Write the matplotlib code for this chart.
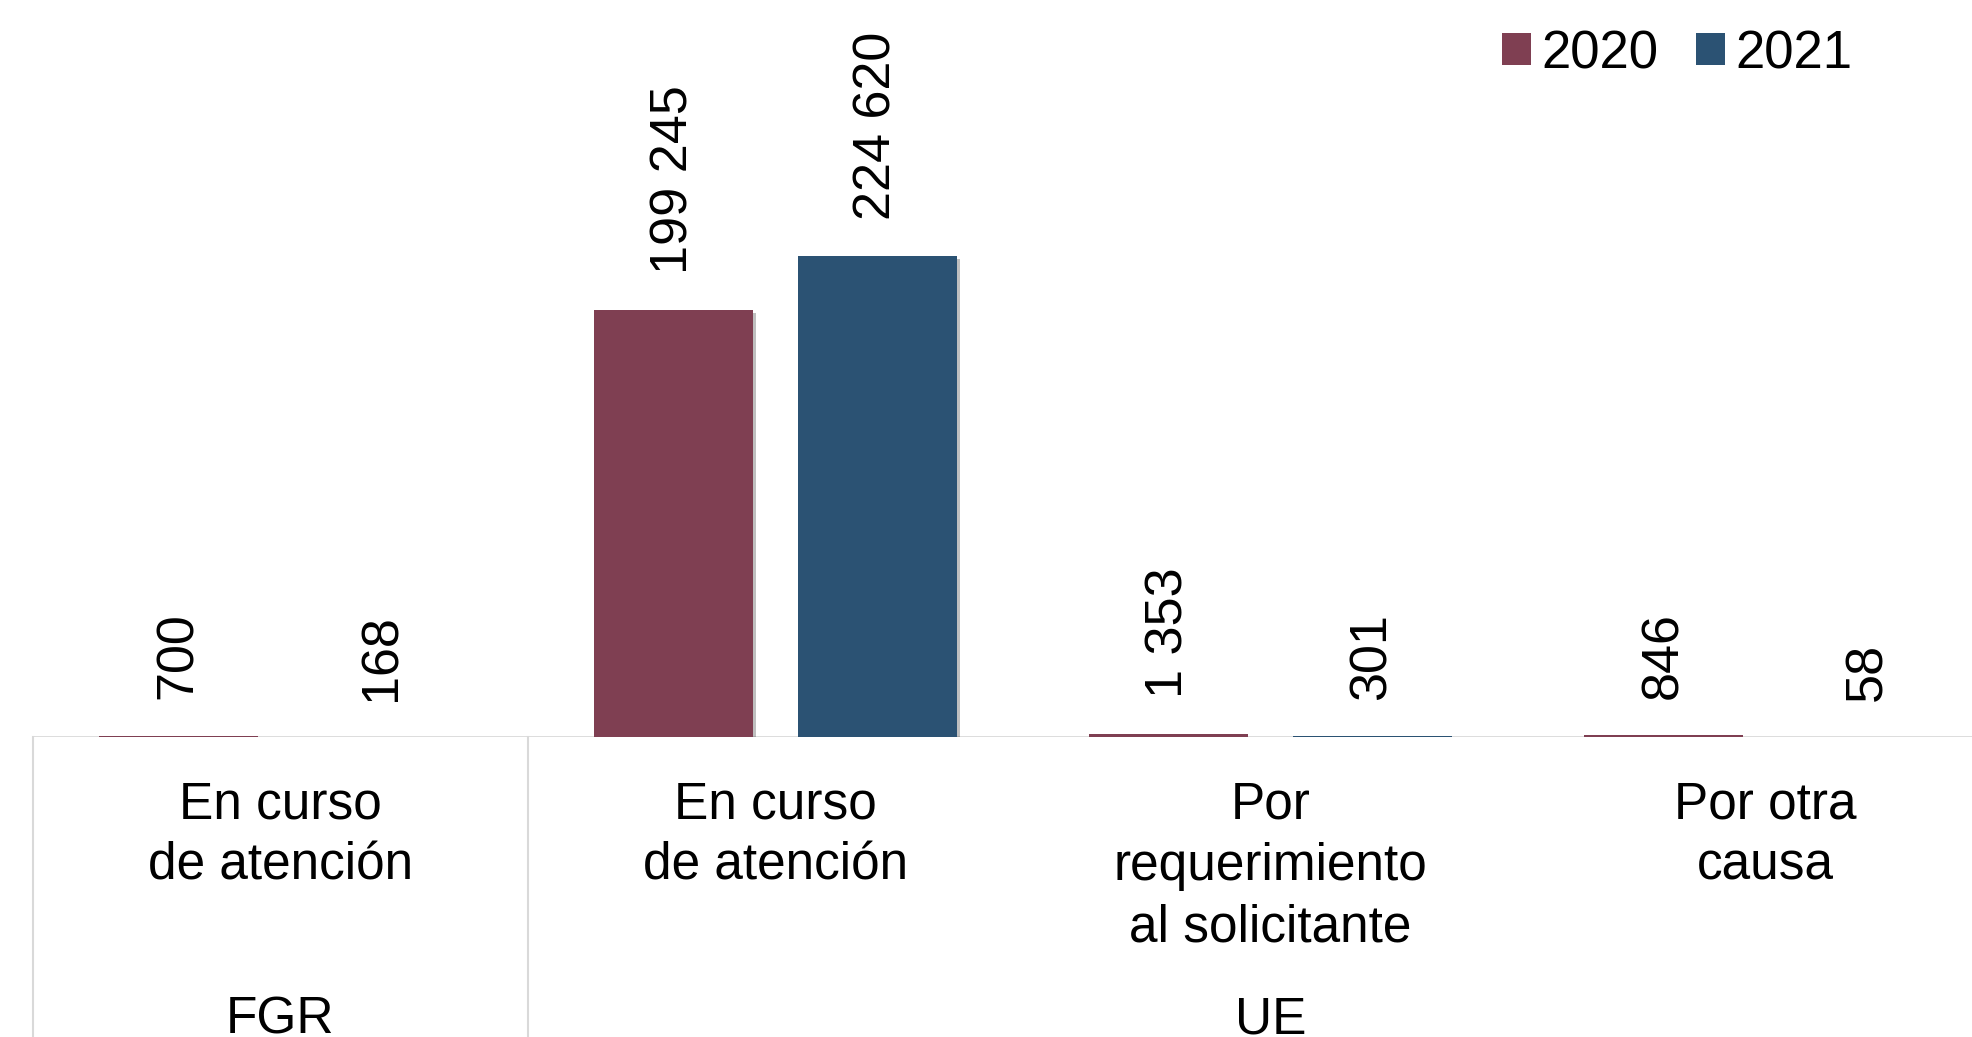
import numpy as np
import matplotlib
matplotlib.use("Agg")
import matplotlib.pyplot as plt
import matplotlib.patheffects as pe
from matplotlib.patches import Patch
from matplotlib.transforms import blended_transform_factory

# Data
categories = ["En curso\nde atención", "En curso\nde atención",
              "Por\nrequerimiento\nal solicitante", "Por otra\ncausa"]
groups = ["FGR", "UE"]
group_spans = [(0, 0), (1, 3)]
years = ["2020", "2021"]
v2020 = [700, 199245, 1353, 846]
v2021 = [168, 224620, 301, 58]

colors = ["#7F3F52", "#2B5273"]
grid_gray = "#D9D9D9"

plt.rcParams['font.family'] = ['Liberation Sans', 'DejaVu Sans']

W, H = 1972, 1037
fig = plt.figure(figsize=(W / 100, H / 100), dpi=100)
base_y = 737
ax = fig.add_axes([33 / W, (H - base_y) / H, (2013 - 33) / W, base_y / H])

x = np.arange(len(categories))
width = 0.321
offset = 0.206
shadow = [pe.SimplePatchShadow(offset=(2.5, -2), shadow_rgbFace='black', alpha=0.25), pe.Normal()]

for vals, dx, col in [(v2020, -offset, colors[0]), (v2021, offset, colors[1])]:
    bars = ax.bar(x + dx, vals, width, color=col, zorder=3)
    for b in bars:
        b.set_path_effects(shadow)
    for xi, v in zip(x + dx, vals):
        ax.annotate(f"{v:,}".replace(",", " "), (xi, v), xytext=(0, 26),
                    textcoords='offset points', rotation=90,
                    ha='center', va='bottom', fontsize=37.5)

ax.set_xlim(-0.5, 3.5)
ax.set_ylim(0, 344000)
for s in ax.spines.values():
    s.set_visible(False)
ax.set_xticks([])
ax.set_yticks([])
ax.axhline(0, color=grid_gray, lw=2, zorder=2)

# category labels below the axis
for xi, lab in zip(x, categories):
    ax.annotate(lab, (xi, 0), xycoords=('data', 'axes fraction'),
                xytext=(0, -31), textcoords='offset points',
                ha='center', va='top', fontsize=37, linespacing=1.33)

# group labels and dividers
tr = blended_transform_factory(ax.transData, fig.transFigure)
for g, (a, b) in zip(groups, group_spans):
    ax.text((a + b) / 2, 3 / H, g, transform=tr, ha='center', va='baseline',
            fontsize=37, clip_on=False)
for xd in [-0.5, 0.5]:
    ax.plot([xd, xd], [0, (H - base_y) / H], transform=tr, color=grid_gray,
            lw=1.5, clip_on=False)

handles = [Patch(facecolor=c, edgecolor='none') for c in colors]
fig.legend(handles, years, loc='upper left', bbox_to_anchor=(1502 / W, 1 - 29 / H),
           frameon=False, ncol=2, fontsize=38, handlelength=0.55, handleheight=0.55,
           handletextpad=0.2, columnspacing=0.7, borderpad=0, borderaxespad=0)

fig.savefig("out.png", dpi=100)
